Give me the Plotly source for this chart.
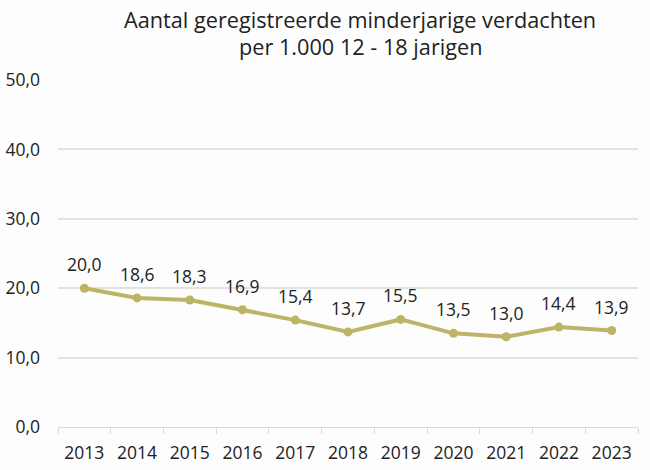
import plotly.graph_objects as go

jaren = ["2013", "2014", "2015", "2016", "2017", "2018", "2019", "2020", "2021", "2022", "2023"]
verdachten = [20.0, 18.6, 18.3, 16.9, 15.4, 13.7, 15.5, 13.5, 13.0, 14.4, 13.9]
y_ticks = [0, 10, 20, 30, 40, 50]
titel = ["Aantal geregistreerde minderjarige verdachten", "per 1.000 12 - 18 jarigen"]

labels = [f"{v:.1f}".replace(".", ",") for v in verdachten]

fig = go.Figure()
fig.add_trace(go.Scatter(
    x=jaren, y=verdachten, mode="lines+markers",
    line=dict(color="#BDB467", width=4),
    marker=dict(color="#BDB467", size=9),
    cliponaxis=False,
))

# data labels a bit higher above the points (category index on the x axis)
for i, (waarde, lab) in enumerate(zip(verdachten, labels)):
    fig.add_annotation(
        x=i, y=waarde, text=lab, showarrow=False,
        yanchor="bottom", yshift=10,
        font=dict(size=17.5, color="#222222"),
    )

# two-line title, centred a bit right of the middle like the original
for regel, ypos in zip(titel, [1.175, 1.096]):
    fig.add_annotation(
        text=regel, xref="paper", yref="paper", x=0.5207, y=ypos,
        xanchor="center", yanchor="middle", showarrow=False,
        font=dict(size=21.7, color="#222222"),
    )

fig.update_layout(
    width=650, height=470,
    margin=dict(l=58, r=12, t=80, b=43),
    paper_bgcolor="#FDFDFD", plot_bgcolor="#FDFDFD",
    font=dict(family="Open Sans", color="#222222"),
    showlegend=False,
)
fig.update_xaxes(
    type="category", range=[-0.5, 10.5],
    showgrid=False, showline=True, linecolor="#D9D9D9", linewidth=1,
    ticks="outside", tickson="boundaries", ticklen=6, tickcolor="#D9D9D9",
    tickfont=dict(size=17.5), ticklabelstandoff=10, zeroline=False, automargin=False,
)
fig.update_yaxes(
    range=[0, 50], tickvals=y_ticks,
    ticktext=[f"{v:.1f}".replace(".", ",") for v in y_ticks],
    showgrid=True, gridcolor="#E3E3DE", gridwidth=1.5, zeroline=False,
    tickfont=dict(size=17.5), ticks="", ticklabelstandoff=17, automargin=False,
)

# drop the default 8px body margin so the figure fills the window
fig.write_html("out.html", config={"displayModeBar": False},
               post_script="document.body.style.margin='0';")
